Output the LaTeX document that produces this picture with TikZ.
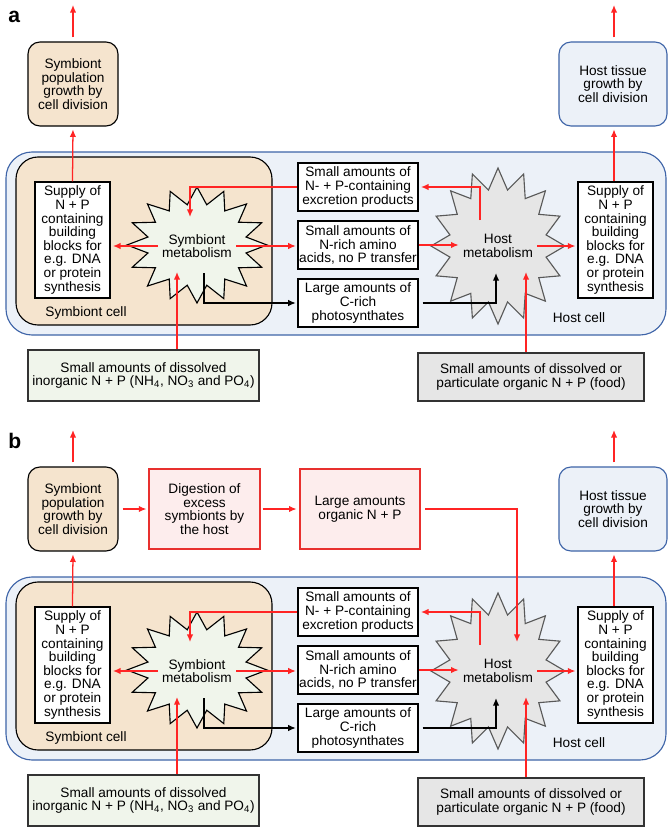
\documentclass[tikz,border=0pt]{standalone}
\usepackage{fontspec}
\setmainfont{Liberation Sans}
\usetikzlibrary{arrows.meta, positioning}

\definecolor{symtan}{HTML}{F5E4CE}
\definecolor{hostblue}{HTML}{ECF1F8}
\definecolor{hostline}{HTML}{3E64A8}
\definecolor{symgreen}{HTML}{F0F5EB}
\definecolor{hostgray}{HTML}{E6E6E6}
\definecolor{digpink}{HTML}{FDEDED}
\definecolor{digred}{HTML}{E8302E}
\definecolor{flowred}{HTML}{FF2424}

\newcommand{\boxfont}{\fontsize{9.7}{9.7}\selectfont}

\tikzset{
  every node/.style={font=\boxfont, align=center, inner sep=0pt},
  plainbox/.style={draw=black, fill=white, line width=0.8pt},
  popbox/.style={draw=black, fill=symtan, line width=0.8pt, rounded corners=0.3cm, minimum width=2.25cm, minimum height=2.1cm},
  tissuebox/.style={draw=hostline, fill=hostblue, line width=0.8pt, rounded corners=0.3cm, minimum width=2.7cm, minimum height=2.1cm},
  supplybox/.style={plainbox, minimum width=1.875cm, minimum height=2.9cm},
  midbox/.style={plainbox, minimum width=3cm, minimum height=1.2cm},
  digbox/.style={draw=digred, fill=digpink, line width=0.8pt, minimum height=2cm},
  hostcell/.style={draw=hostline, fill=hostblue, line width=0.8pt, rounded corners=0.65cm},
  symcell/.style={draw=black, fill=symtan, line width=0.8pt, rounded corners=0.55cm},
  symstar/.style={draw=black, fill=symgreen, line width=0.8pt, line join=miter},
  hoststar/.style={draw=black!65, fill=hostgray, line width=0.8pt, line join=miter},
  redarrow/.style={draw=flowred, line width=0.9pt, -{Latex[length=1.9mm, width=1.6mm]}},
  blackarrow/.style={draw=black, line width=0.9pt, -{Latex[length=1.9mm, width=1.6mm]}},
}

\begin{document}
\begin{tikzpicture}[x=0.025cm, y=-0.025cm]
\useasboundingbox (0,0) rectangle (668,828);

\foreach \p/\dy in {a/0, b/425}{
\begin{scope}[shift={(0,\dy)}]
% panel letter
\node[font=\fontsize{15}{15}\selectfont\bfseries, anchor=base west] (panel\p) at (8,23) {\p};

% cells
\draw[hostcell] (6,152) rectangle (666,335);
\draw[symcell] (16,157) rectangle (272,325);
\node[anchor=center] (symlabel\p) at (86,313) {Symbiont cell};
\node[anchor=center] (hostlabel\p) at (579,318) {Host cell};

% growth boxes
\node[popbox] (pop\p) at (73,84) {Symbiont\\population\\growth by\\cell division};
\node[tissuebox] (tissue\p) at (613,84) {Host tissue\\growth by\\cell division};
\coordinate (popout\p) at (73,5);
\coordinate (tissueout\p) at (614,5);

% building blocks
\node[supplybox] (supS\p) at (72.5,240) {Supply of\\N + P\\containing\\building\\blocks for\\e.g. DNA\\or protein\\synthesis};
\node[supplybox] (supH\p) at (615.5,240) {Supply of\\N + P\\containing\\building\\blocks for\\e.g. DNA\\or protein\\synthesis};

% exchanged products
\node[midbox] (excr\p) at (358,187) {Small amounts of\\N- + P-containing\\excretion products};
\node[midbox] (amino\p) at (358,245) {Small amounts of\\N-rich amino\\acids, no P transfer};
\node[midbox] (photo\p) at (358,303) {Large amounts of\\C-rich\\photosynthates};

% metabolism stars
\draw[symstar, shift={(197,245)}] (90:70 and 58)
  \foreach \k in {0,...,15}{ -- ({101.25+22.5*\k}:50 and 41) -- ({112.5+22.5*\k}:70 and 58)} -- cycle;
\draw[hoststar, shift={(498,246)}] (90:67 and 78)
  \foreach \k in {0,...,15}{ -- ({101.25+22.5*\k}:49 and 57) -- ({112.5+22.5*\k}:67 and 78)} -- cycle;
\node[inner sep=3pt] (symtext\p) at (197,246) {Symbiont\\metabolism};
\node[inner sep=3pt] (hosttext\p) at (498,246) {Host\\metabolism};

% outside sources
\node[draw=black!80, fill=symgreen, line width=0.8pt, minimum width=5.775cm, minimum height=1.275cm] (inorg\p) at (143.5,375.5)
  {Small amounts of dissolved\\inorganic N + P (NH\textsubscript{4}, NO\textsubscript{3} and PO\textsubscript{4})};
\node[draw=black!80, fill=hostgray, line width=0.8pt, minimum width=5.65cm, minimum height=1.2cm] (food\p) at (531,377)
  {Small amounts of dissolved or\\particulate organic N + P (food)};

% connector ends inside the stars
\coordinate (symin\p) at (177,272);
\coordinate (symexc\p) at (190,217);
\coordinate (symout\p) at (204,273);
\coordinate (hostexc\p) at (480,220);
\coordinate (hostphoto\p) at (496,273);
\coordinate (hostfood\p) at (526,272);

% symbiont side
\draw[redarrow, shorten <=1mm] (pop\p.north) -- (popout\p);
\draw[redarrow, shorten >=0.7mm] (supS\p.north) -- (pop\p.south);
\draw[redarrow, shorten >=0.6mm] (symtext\p.west) -- (symtext\p.west -| supS\p.east);
\draw[redarrow, shorten >=0.4mm] (symtext\p.east) -- (symtext\p.east -| amino\p.west);
\draw[redarrow] (inorg\p.north -| symin\p) -- (symin\p);
\draw[redarrow] (excr\p.west) -| (symexc\p);
\draw[blackarrow, shorten >=0.4mm] (symout\p) |- (photo\p.west);

% host side
\draw[redarrow, shorten >=0.6mm] (hostexc\p) |- (excr\p.east);
\draw[redarrow] (amino\p.east) -- (amino\p.east -| hosttext\p.west);
\draw[blackarrow, shorten <=1mm] (photo\p.east) -| (hostphoto\p);
\draw[redarrow] (food\p.north -| hostfood\p) -- (hostfood\p);
\draw[redarrow, shorten >=0.5mm] (hosttext\p.east) -- (hosttext\p.east -| supH\p.west);
\draw[redarrow, shorten >=0.7mm] (supH\p.north -| tissueout\p) -- (tissue\p.south -| tissueout\p);
\draw[redarrow, shorten <=1mm] (tissue\p.north -| tissueout\p) -- (tissueout\p);
\end{scope}
}

% digestion of excess symbionts (panel b only)
\begin{scope}[shift={(0,425)}]
\node[digbox, minimum width=2.775cm] (digb) at (204.5,84) {Digestion of\\excess\\symbionts by\\the host};
\node[digbox, minimum width=3cm] (largeb) at (360,84) {Large amounts\\organic N + P};
\coordinate (hostlargeb) at (517,217);
\draw[redarrow, shorten <=1mm, shorten >=0.5mm] (popb.east) -- (digb.west);
\draw[redarrow, shorten <=0.5mm, shorten >=0.7mm] (digb.east) -- (largeb.west);
\draw[redarrow, shorten <=1.2mm] (largeb.east) -| (hostlargeb);
\end{scope}
\end{tikzpicture}
\end{document}
